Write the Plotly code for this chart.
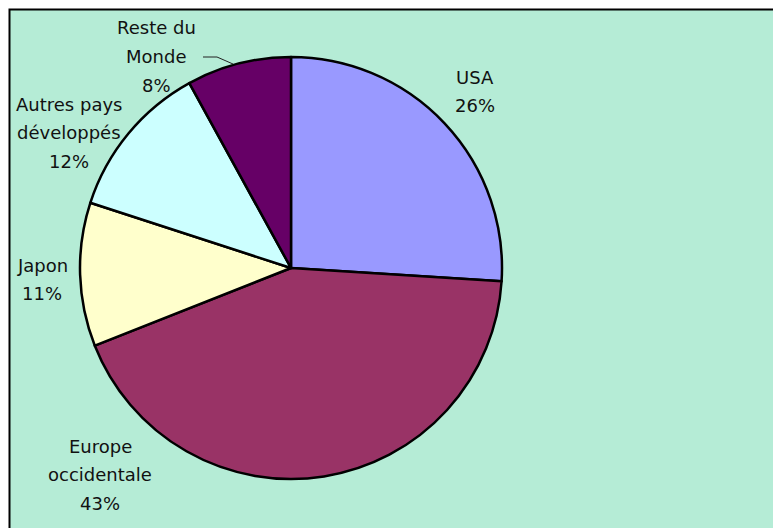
import plotly.graph_objects as go

# ---- data ----
labels = ["USA", "Europe occidentale", "Japon", "Autres pays développés", "Reste du Monde"]
values = [26, 43, 11, 12, 8]
label_lines = [["USA"], ["Europe", "occidentale"], ["Japon"], ["Autres pays", "développés"], ["Reste du", "Monde"]]
colors = ["#9999ff", "#993366", "#ffffcc", "#ccffff", "#660066"]

W, H = 773, 528
# label anchor (center x, first-line center y) in screen pixels
label_pos = [(475, 77), (100, 446), (42, 265), (69, 104), (156, 28)]
line_gap = 28.6


def px_x(x):
    return x / W


def px_y(y):
    return 1 - y / H


fig = go.Figure()
fig.add_trace(go.Pie(
    labels=labels, values=values, sort=False, direction="clockwise", rotation=0,
    marker=dict(colors=colors, line=dict(color="black", width=2.5)),
    textinfo="none", hoverinfo="label+percent", showlegend=False,
    domain=dict(x=[px_x(80), px_x(502)], y=[px_y(479), px_y(57)]),
))

total = sum(values)
annotations = []
for lines, v, (px, py) in zip(label_lines, values, label_pos):
    all_lines = lines + [f"{round(100 * v / total)}%"]
    for i, t in enumerate(all_lines):
        annotations.append(dict(
            x=px_x(px), y=px_y(py + i * line_gap), xref="paper", yref="paper",
            text=t, showarrow=False, xanchor="center", yanchor="middle",
            font=dict(family="DejaVu Sans", size=18, color="#111111"),
        ))

shapes = [
    dict(type="rect", xref="paper", yref="paper", x0=px_x(9.5), x1=1.05, y0=-0.05, y1=px_y(9.5),
         fillcolor="#b5ecd6", line=dict(color="black", width=2), layer="below"),
    dict(type="path", xref="paper", yref="paper",
         path=f"M {px_x(203)} {px_y(57)} L {px_x(217)} {px_y(57)} L {px_x(233)} {px_y(64)}",
         line=dict(color="#222222", width=1)),
]

fig.update_layout(
    width=W, height=H, margin=dict(l=0, r=0, t=0, b=0),
    paper_bgcolor="white", plot_bgcolor="white",
    annotations=annotations, shapes=shapes,
)
fig.write_html(
    "out.html",
    config={"displayModeBar": False},
    post_script="document.body.style.margin='0';document.body.style.overflow='hidden';",
)
